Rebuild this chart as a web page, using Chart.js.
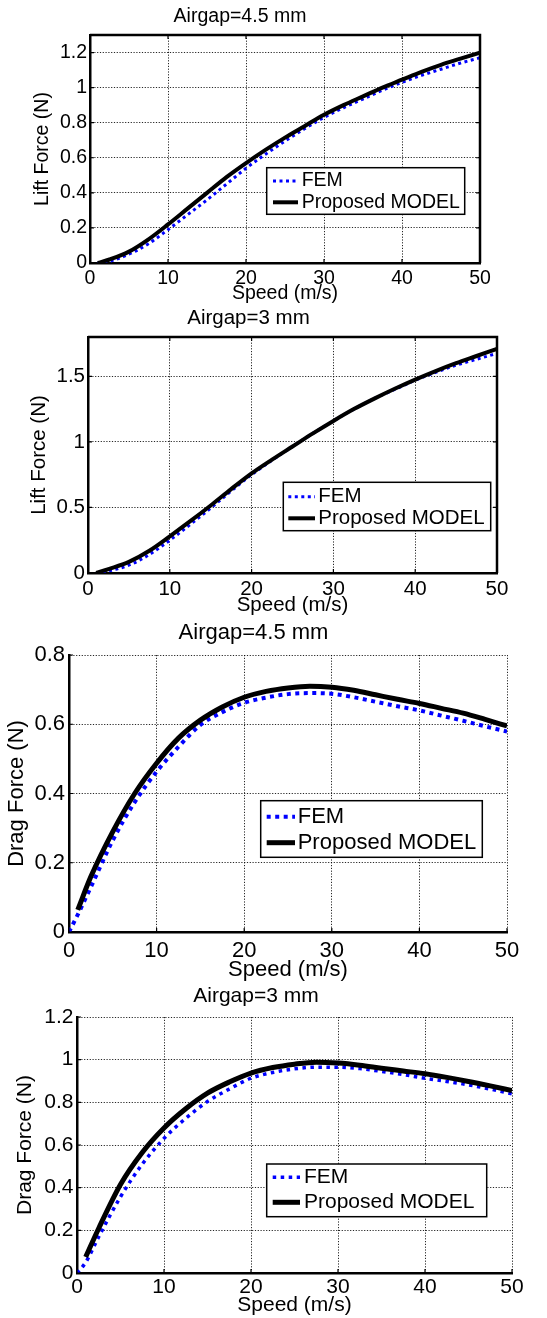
<!DOCTYPE html>
<html>
<head>
<meta charset="utf-8">
<script src="https://cdn.jsdelivr.net/npm/chart.js@4.4.1/dist/chart.umd.min.js"></script>
<style>
  body { margin: 0; background: #fff; }
  .wrap { position: absolute; left: 0; width: 547px; }
  canvas { display: block; }
</style>
</head>
<body>
<div class="wrap" style="top:0px"><canvas id="lift45" width="547" height="305"></canvas></div>
<div class="wrap" style="top:305px"><canvas id="lift3" width="547" height="313"></canvas></div>
<div class="wrap" style="top:618px"><canvas id="drag45" width="547" height="365"></canvas></div>
<div class="wrap" style="top:983px"><canvas id="drag3" width="547" height="335"></canvas></div>
<script>
// speed samples (m/s)
const speed = [0, 1, 2.5, 5, 7.5, 10, 12.5, 15, 17.5, 20, 22.5, 25, 27.5, 30, 32.5, 35, 37.5, 40, 42.5, 45, 47.5, 50]

// lift force, airgap 4.5 mm
const lift45Fem = [null, 0, 0.01, 0.05, 0.11, 0.19, 0.275, 0.36, 0.45, 0.54, 0.62, 0.695, 0.765, 0.83, 0.885, 0.935, 0.985, 1.03, 1.07, 1.105, 1.14, 1.17]
const lift45Model = [null, 0, 0.02, 0.065, 0.135, 0.22, 0.31, 0.40, 0.49, 0.57, 0.645, 0.715, 0.78, 0.845, 0.9, 0.95, 1.0, 1.045, 1.09, 1.13, 1.165, 1.20]

// lift force, airgap 3 mm
const lift3Fem = [null, 0, 0.015, 0.06, 0.14, 0.25, 0.37, 0.495, 0.625, 0.75, 0.86, 0.965, 1.065, 1.16, 1.25, 1.33, 1.40, 1.47, 1.53, 1.585, 1.63, 1.675]
const lift3Model = [null, 0, 0.03, 0.085, 0.17, 0.28, 0.395, 0.515, 0.64, 0.76, 0.865, 0.965, 1.065, 1.16, 1.25, 1.33, 1.405, 1.475, 1.54, 1.60, 1.655, 1.71]

// drag force, airgap 4.5 mm
const drag45Fem = [0, 0.05, 0.13, 0.265, 0.375, 0.463, 0.535, 0.598, 0.635, 0.662, 0.677, 0.687, 0.69, 0.688, 0.678, 0.665, 0.652, 0.64, 0.625, 0.61, 0.594, 0.579]
const drag45Model = [null, 0.064, 0.16, 0.29, 0.40, 0.4875, 0.56, 0.612, 0.65, 0.678, 0.695, 0.705, 0.71, 0.707, 0.698, 0.685, 0.672, 0.66, 0.646, 0.632, 0.614, 0.595]

// drag force, airgap 3 mm
const drag3Fem = [0, 0.05, 0.17, 0.357, 0.51, 0.631, 0.725, 0.804, 0.862, 0.913, 0.94, 0.957, 0.965, 0.965, 0.958, 0.945, 0.93, 0.913, 0.898, 0.882, 0.862, 0.84]
const drag3Model = [null, 0.075, 0.21, 0.415, 0.565, 0.68, 0.77, 0.843, 0.895, 0.937, 0.963, 0.979, 0.988, 0.984, 0.974, 0.96, 0.947, 0.934, 0.917, 0.898, 0.877, 0.855]

const xTicks = [0, 10, 20, 30, 40, 50]
const liftTicks45 = [0, 0.2, 0.4, 0.6, 0.8, 1, 1.2]
const liftTicks3 = [0, 0.5, 1, 1.5]
const dragTicks45 = [0, 0.2, 0.4, 0.6, 0.8]
const dragTicks3 = [0, 0.2, 0.4, 0.6, 0.8, 1, 1.2]

const seriesNames = ['FEM', 'Proposed MODEL']

Chart.defaults.color = '#000'
Chart.defaults.font.family = '"Liberation Sans", Arial, Helvetica, sans-serif'

const toPoints = ys => speed.map((x, i) => ({ x: x, y: ys[i] })).filter(p => p.y !== null)

// MATLAB-style frame: inner tick marks and optional box on top/right
const framePlugin = {
  id: 'frame',
  afterDatasetsDraw(chart, args, opts) {
    const { ctx, chartArea: a, scales: { x, y } } = chart
    ctx.save()
    ctx.strokeStyle = '#000'
    ctx.lineWidth = 1.2
    ctx.beginPath()
    x.ticks.forEach(t => {
      const px = x.getPixelForValue(t.value)
      ctx.moveTo(px, a.bottom)
      ctx.lineTo(px, a.bottom - 4)
      if (opts.box) {
        ctx.moveTo(px, a.top)
        ctx.lineTo(px, a.top + 4)
      }
    })
    y.ticks.forEach(t => {
      const py = y.getPixelForValue(t.value)
      ctx.moveTo(a.left, py)
      ctx.lineTo(a.left + 4, py)
      if (opts.box) {
        ctx.moveTo(a.right, py)
        ctx.lineTo(a.right - 4, py)
      }
    })
    ctx.stroke()
    if (opts.box) {
      ctx.lineWidth = 2.5
      ctx.beginPath()
      ctx.moveTo(a.left, a.top)
      ctx.lineTo(a.right, a.top)
      ctx.lineTo(a.right, a.bottom)
      ctx.stroke()
    }
    ctx.restore()
  }
}

// boxed legend placed inside the plot area, like a MATLAB legend
const boxLegend = {
  id: 'boxLegend',
  afterDraw(chart, args, opts) {
    const { ctx, chartArea: a } = chart
    const bx = a.left + opts.left
    const by = a.top + opts.top
    ctx.save()
    ctx.fillStyle = '#fff'
    ctx.fillRect(bx, by, opts.width, opts.height)
    ctx.strokeStyle = '#000'
    ctx.lineWidth = 1.5
    ctx.strokeRect(bx, by, opts.width, opts.height)
    chart.data.datasets.forEach((ds, i) => {
      const cy = by + opts.rows[i]
      ctx.beginPath()
      ctx.setLineDash(ds.borderDash || [])
      ctx.lineWidth = ds.borderWidth
      ctx.strokeStyle = ds.borderColor
      ctx.moveTo(bx + opts.line[0], cy)
      ctx.lineTo(bx + opts.line[1], cy)
      ctx.stroke()
      ctx.setLineDash([])
      ctx.fillStyle = '#000'
      ctx.font = opts.fontSize + 'px ' + Chart.defaults.font.family
      ctx.textBaseline = 'middle'
      ctx.textAlign = 'left'
      ctx.fillText(ds.label, bx + opts.textX, cy)
    })
    ctx.restore()
  }
}

function createForceChart(id, cfg) {
  const fs = cfg.fontSize
  new Chart(document.getElementById(id).getContext('2d'), {
    type: 'line',
    data: {
      datasets: [
        {
          label: seriesNames[0],
          data: toPoints(cfg.fem),
          borderColor: '#0000ff',
          borderWidth: cfg.femWidth,
          borderDash: cfg.femDash,
          borderCapStyle: 'butt',
          pointRadius: 0,
          cubicInterpolationMode: 'monotone',
          order: 1
        },
        {
          label: seriesNames[1],
          data: toPoints(cfg.model),
          borderColor: '#000',
          borderWidth: cfg.modelWidth,
          pointRadius: 0,
          cubicInterpolationMode: 'monotone',
          order: 0
        }
      ]
    },
    options: {
      responsive: false,
      animation: false,
      events: [],
      layout: { padding: { left: 0, right: cfg.padRight, top: 0, bottom: 0 } },
      plugins: {
        legend: { display: false },
        tooltip: { enabled: false },
        title: {
          display: true,
          text: cfg.title,
          color: '#000',
          font: { size: fs, weight: 'normal' },
          padding: cfg.titlePad
        },
        frame: { box: cfg.box },
        boxLegend: Object.assign({ fontSize: fs }, cfg.legend)
      },
      scales: {
        x: {
          type: 'linear',
          min: 0,
          max: 50,
          afterBuildTicks: s => { s.ticks = xTicks.map(v => ({ value: v })) },
          afterFit: s => { s.height = cfg.xHeight },
          ticks: { font: { size: fs }, padding: cfg.xTickPad, maxRotation: 0, callback: v => String(v) },
          grid: { color: 'rgba(0,0,0,0.85)', lineWidth: 1, drawTicks: false },
          border: { display: true, color: '#000', width: 2.5, dash: [1.2, 1.6] },
          title: { display: true, text: 'Speed (m/s)', font: { size: fs }, padding: { top: 0, bottom: 0 } }
        },
        y: {
          type: 'linear',
          min: 0,
          max: cfg.yMax,
          afterBuildTicks: s => { s.ticks = cfg.yTicks.map(v => ({ value: v })) },
          afterFit: s => { s.width = cfg.yWidth },
          ticks: { font: { size: fs }, padding: cfg.yTickPad, callback: v => String(v) },
          grid: { color: 'rgba(0,0,0,0.85)', lineWidth: 1, drawTicks: false },
          border: { display: true, color: '#000', width: 2.5, dash: [1.2, 1.6] },
          title: { display: true, text: cfg.yTitle, font: { size: fs }, padding: { top: cfg.yTitlePad, bottom: 0 } }
        }
      }
    },
    plugins: [framePlugin, boxLegend]
  })
}

createForceChart('lift45', {
  title: 'Airgap=4.5 mm', yTitle: 'Lift Force (N)', fem: lift45Fem, model: lift45Model,
  yMax: 1.3, yTicks: liftTicks45, fontSize: 19.5, box: true,
  titlePad: { top: 5.3, bottom: 6.3 }, xHeight: 42, xTickPad: 4, yWidth: 90, yTickPad: 3, yTitlePad: 31.3, padRight: 67,
  femWidth: 3, femDash: [3, 3.5], modelWidth: 4,
  legend: { left: 176.7, top: 132.7, width: 198, height: 46.6, line: [6.3, 31.3], textX: 35, rows: [13.3, 34.6] }
})

createForceChart('lift3', {
  title: 'Airgap=3 mm', yTitle: 'Lift Force (N)', fem: lift3Fem, model: lift3Model,
  yMax: 1.8, yTicks: liftTicks3, fontSize: 20.5, box: true,
  titlePad: { top: 1, bottom: 6.4 }, xHeight: 45, xTickPad: 4, yWidth: 88, yTickPad: 3, yTitlePad: 26.7, padRight: 50,
  femWidth: 3, femDash: [3, 3.5], modelWidth: 4,
  legend: { left: 195.3, top: 145.3, width: 207.4, height: 48.4, line: [5, 31.7], textX: 35, rows: [14.4, 36] }
})

createForceChart('drag45', {
  title: 'Airgap=4.5 mm', yTitle: 'Drag Force (N)', fem: drag45Fem, model: drag45Model,
  yMax: 0.8, yTicks: dragTicks45, fontSize: 22, box: false,
  titlePad: { top: 1.3, bottom: 9.3 }, xHeight: 51, xTickPad: 6, yWidth: 69, yTickPad: 4, yTitlePad: 3.5, padRight: 40,
  femWidth: 4, femDash: [4, 4.5], modelWidth: 5,
  legend: { left: 191.7, top: 145.7, width: 221.6, height: 56.6, line: [6, 34.3], textX: 37, rows: [16, 42] }
})

createForceChart('drag3', {
  title: 'Airgap=3 mm', yTitle: 'Drag Force (N)', fem: drag3Fem, model: drag3Model,
  yMax: 1.2, yTicks: dragTicks3, fontSize: 21, box: false,
  titlePad: { top: 0.4, bottom: 8.4 }, xHeight: 45, xTickPad: 2, yWidth: 77, yTickPad: 3.5, yTitlePad: 12.4, padRight: 35,
  femWidth: 3.5, femDash: [3.5, 4.5], modelWidth: 5,
  legend: { left: 189.7, top: 147, width: 220, height: 52.7, line: [6, 33.3], textX: 37.3, rows: [13.3, 38.3] }
})
</script>
</body>
</html>
